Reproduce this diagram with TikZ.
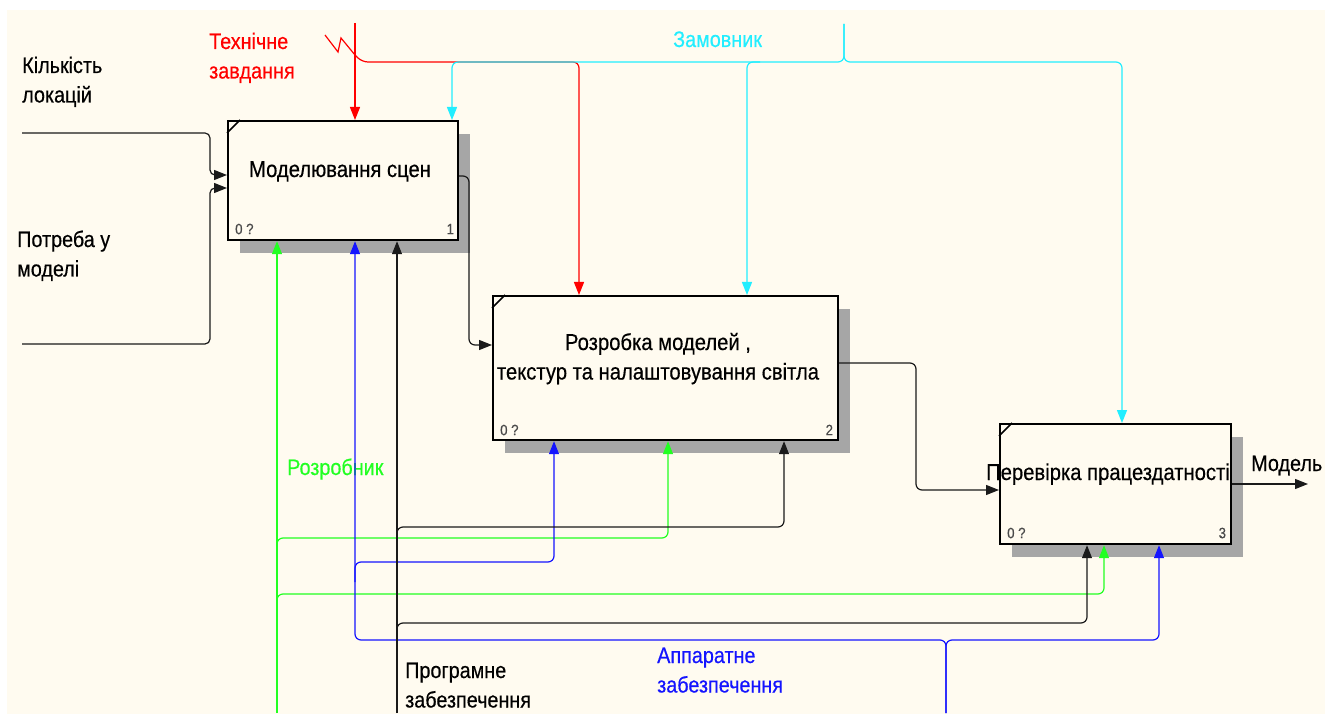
\documentclass[tikz,border=0pt]{standalone}
\usepackage{fontspec}
\setmainfont{Liberation Sans}[FakeStretch=0.88,FakeBold=0.4]
\usetikzlibrary{arrows.meta,calc,shadows}
\definecolor{bg}{HTML}{FFFBF0}
\definecolor{cred}{HTML}{FF0000}
\definecolor{ccyan}{HTML}{22EEFF}
\definecolor{cgreen}{HTML}{22FF22}
\definecolor{cblue}{HTML}{1414FF}
\definecolor{shadowc}{HTML}{A6A6A6}
\definecolor{numc}{HTML}{4A4A4A}
\definecolor{lk}{HTML}{1A1A1A}
\newcommand{\twoline}[2]{\begin{tabular}[t]{@{}l@{}}#1\\#2\end{tabular}}
\newcommand{\twolinec}[2]{\begin{tabular}[t]{@{}c@{}}#1\\#2\end{tabular}}
\begin{document}
\begin{tikzpicture}[x=1pt,y=-1pt,
  lbl/.style={anchor=base west, inner sep=0, font=\fontsize{22.5}{29.5}\selectfont},
  btext/.style={anchor=base, inner sep=0, font=\fontsize{23}{29.5}\selectfont},
  num/.style={inner sep=0, text=numc, font=\fontsize{15}{17}\selectfont},
  box/.style={draw=black, line width=2.2pt, fill=bg, anchor=north west, inner sep=0,
    drop shadow={shadow xshift=12pt, shadow yshift=-13pt, fill=shadowc, opacity=1}},
  conn/.style={line width=1.2pt, rounded corners=6pt},
  arr/.style={-{Triangle[length=13pt,width=10pt]}},
  tick/.style={line width=1.6pt}]
\useasboundingbox (0,0) rectangle (1336,719);
\fill[white] (0,0) rectangle (1336,719);
\fill[bg] (7,10) rectangle (1325,714);

% boxes
\node[box, minimum width=230pt, minimum height=119pt] (b1) at (227,120) {};
\node[box, minimum width=345pt, minimum height=144pt] (b2) at (492,295) {};
\node[box, minimum width=231pt, minimum height=120pt] (b3) at (999,423) {};

\draw[tick] ($(b1.north west)+(0,13)$) -- ($(b1.north west)+(13,0)$);
\draw[tick] ($(b2.north west)+(0,13)$) -- ($(b2.north west)+(13,0)$);
\draw[tick] ($(b3.north west)+(0,13)$) -- ($(b3.north west)+(13,0)$);

\node[btext] (t1) at (340,177) {Моделювання сцен};
\node[btext] (t2) at (658,350) {\twolinec{Розробка моделей ,}{ текстур та налаштовування світла}};
\node[btext] (t3) at (1108,480) {Перевірка працездатності};

\node[num, anchor=base west] (z1) at ($(b1.south west)+(8,-7)$) {0 ?};
\node[num, anchor=base east] (n1) at ($(b1.south east)+(-5,-7)$) {1};
\node[num, anchor=base west] (z2) at ($(b2.south west)+(8,-6)$) {0 ?};
\node[num, anchor=base east] (n2) at ($(b2.south east)+(-6,-6)$) {2};
\node[num, anchor=base west] (z3) at ($(b3.south west)+(8,-7)$) {0 ?};
\node[num, anchor=base east] (n3) at ($(b3.south east)+(-6,-7)$) {3};

% labels
\node[lbl] (lk1) at (22,73) {\twoline{Кількість}{локацій}};
\node[lbl] (lk2) at (17,247) {\twoline{Потреба у}{моделі}};
\node[lbl, text=cred] (lt) at (209,49) {\twoline{Технічне}{завдання}};
\node[lbl, text=ccyan] (lz) at (673,47) {Замовник};
\node[lbl, text=cgreen] (lr) at (287,475) {Розробник};
\node[lbl] (lp) at (405,678) {\twoline{Програмне}{забезпечення}};
\node[lbl, text=cblue] (la) at (657,663) {\twoline{Аппаратне}{забезпечення}};
\node[lbl] (lm) at (1251,471) {Модель};

% coordinates
\coordinate (in1) at (22,133);
\coordinate (in2) at (22,344);
\coordinate (mout) at (1308,484);
\coordinate (redsrc) at (325,35);
\coordinate (redtop) at (355,23);
\coordinate (rk) at (579,62);
\coordinate (cytop) at (844,24);
\coordinate (cyL) at (452,62);
\coordinate (cyM) at (747,62);
\coordinate (cyR) at (1122,62);
\coordinate (gsrc) at (277,713);
\coordinate (g1) at (277,538);
\coordinate (g1b) at (668,538);
\coordinate (g2) at (277,594);
\coordinate (g2b) at (1104,594);
\coordinate (bsrc) at (946,713);
\coordinate (bsp) at (946,640);
\coordinate (bL) at (355,640);
\coordinate (bR) at (1159,640);
\coordinate (bl1) at (355,562);
\coordinate (bl1b) at (554,562);
\coordinate (ksrc) at (397,713);
\coordinate (k1) at (397,527);
\coordinate (k1b) at (784,527);
\coordinate (k2) at (397,623);
\coordinate (k2b) at (1087,623);

% inputs
\draw[conn, rounded corners=5pt, arr, lk] (in1) -- (210,133) -- (210,175) -- ($(b1.north west)+(0,55)$);
\draw[conn, rounded corners=5pt, arr, lk] (in2) -- (210,344) -- (210,188) -- ($(b1.north west)+(0,68)$);
% flows
\draw[conn, arr, lk] ($(b1.north east)+(0,56)$) -- (469,176) -- (469,345) -- ($(b2.north west)+(0,50)$);
\draw[conn, arr, lk] ($(b2.north east)+(0,68)$) -- (916,363) -- (916,490) -- ($(b3.north west)+(0,67)$);
\draw[line width=1.2pt, arr, lk] ($(b3.north east)+(0,61)$) -- (mout);

% controls: red
\draw[line width=1.2pt, cred] (redsrc) -- (338,52) -- (341,38) -- (355,55) [rounded corners=6pt] -- (362,62) -- (rk) -- (b2.north -| rk) [arr];
\draw[line width=1.2pt, cred, arr] (redtop) -- (b1.north -| redtop);
% cyan
\draw[conn, ccyan, arr] (cytop) -- (844,62) -- (cyL) -- (b1.north -| cyL);
\draw[conn, ccyan, arr] (cytop) -- (844,62) -- (cyR) -- (b3.north -| cyR);
\draw[conn, ccyan, arr] (760,62) -- (cyM) -- (b2.north -| cyM);

% mechanisms: green
\draw[line width=1.2pt, cgreen, arr] (gsrc) -- (b1.south -| gsrc);
\draw[conn, cgreen, arr] ($(g1)+(0,20)$) -- (g1) -- (g1b) -- (b2.south -| g1b);
\draw[conn, cgreen, arr] ($(g2)+(0,20)$) -- (g2) -- (g2b) -- (b3.south -| g2b);
% blue
\draw[conn, cblue, arr] (bsrc) -- (bsp) -- (bL) -- (b1.south -| bL);
\draw[conn, cblue, arr] (bsrc) -- (bsp) -- (bR) -- (b3.south -| bR);
\draw[conn, cblue, arr] ($(bl1)+(0,20)$) -- (bl1) -- (bl1b) -- (b2.south -| bl1b);
% black
\draw[line width=1.2pt, lk, arr] (ksrc) -- (b1.south -| ksrc);
\draw[conn, lk, arr] ($(k1)+(0,20)$) -- (k1) -- (k1b) -- (b2.south -| k1b);
\draw[conn, lk, arr] ($(k2)+(0,20)$) -- (k2) -- (k2b) -- (b3.south -| k2b);
\end{tikzpicture}
\end{document}
